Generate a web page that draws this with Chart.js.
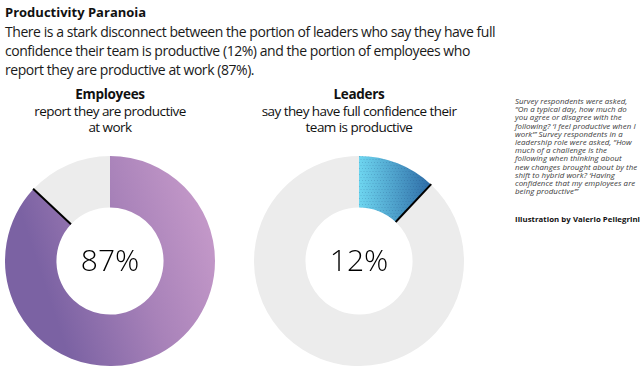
<!DOCTYPE html>
<html><head><meta charset="utf-8">
<script src="https://cdn.jsdelivr.net/npm/chart.js@4/dist/chart.umd.min.js"></script>
<style>
html,body{margin:0;padding:0;background:#fff;width:640px;height:378px;overflow:hidden;}
body{position:relative;font-family:"Open Sans","Noto Sans",sans-serif;color:#111;}
.abs{position:absolute;white-space:nowrap;}
#title{left:5px;top:3px;font-size:13px;font-weight:bold;}
#body{left:5px;top:22px;font-size:14px;line-height:19px;letter-spacing:-0.45px;color:#1a1a1a;}
.head{top:86px;width:240px;text-align:center;font-size:13.5px;line-height:16.5px;letter-spacing:-0.55px;color:#111;}
.head b{font-weight:bold;letter-spacing:-0.3px;}
#note{left:515px;top:97px;font-size:7.9px;line-height:8.2px;font-style:italic;color:#3a3a3a;letter-spacing:0.05px;}
#credit{left:515px;top:214px;font-size:7.8px;font-weight:bold;color:#111;letter-spacing:0.05px;}
canvas{position:absolute;}
</style></head><body>
<div id="title" class="abs">Productivity Paranoia</div>
<div id="body" class="abs">There is a stark disconnect between the portion of leaders who say they have full<br>confidence their team is productive (12%) and the portion of employees who<br>report they are productive at work (87%).</div>
<div class="abs head" style="left:-10px"><b>Employees</b><br>report they are productive<br>at work</div>
<div class="abs head" style="left:239px"><b>Leaders</b><br>say they have full confidence their<br>team is productive</div>
<div id="note" class="abs">Survey respondents were asked,<br>“On a typical day, how much do<br>you agree or disagree with the<br>following? ‘I feel productive when I<br>work’” Survey respondents in a<br>leadership role were asked, “How<br>much of a challenge is the<br>following when thinking about<br>new changes brought about by the<br>shift to hybrid work? ‘Having<br>confidence that my employees are<br>being productive’”</div>
<div id="credit" class="abs">Illustration by Valerio Pellegrini</div>
<canvas id="c1" width="210" height="210" style="left:5px;top:156px;width:210px;height:210px"></canvas>
<canvas id="c2" width="210" height="210" style="left:254px;top:156px;width:210px;height:210px"></canvas>
<script>
const categories = ["Productive", "Other"];
const employeesValues = [87, 13];
const leadersValues = [12, 88];
const employeesLabel = "87%";
const leadersLabel = "12%";

const grey = "#ececec";

function empGradient(){
  const c = document.getElementById('c1').getContext('2d');
  const g = c.createLinearGradient(200, 10, 20, 70);
  g.addColorStop(0, "#c89ccb");
  g.addColorStop(0.5, "#a882b9");
  g.addColorStop(1, "#7b62a3");
  return g;
}
function leadPattern(){
  const pc = document.createElement('canvas');
  pc.width = 210; pc.height = 210;
  const x = pc.getContext('2d');
  const g = x.createLinearGradient(105, 0, 178, 0);
  g.addColorStop(0, "#6ed6f0");
  g.addColorStop(1, "#2d6aa5");
  x.fillStyle = g; x.fillRect(0,0,210,210);
  x.fillStyle = "rgba(20,60,110,0.18)";
  for(let yy=0; yy<210; yy+=3){
    for(let xx=(yy/3)%2?1.5:0; xx<210; xx+=3){
      x.fillRect(xx, yy, 1, 1);
    }
  }
  const c = document.getElementById('c2').getContext('2d');
  return c.createPattern(pc, 'no-repeat');
}

const edgePlugin = {
  id: 'edge',
  afterDatasetsDraw(chart, args, opts){
    const arc = chart.getDatasetMeta(0).data[0];
    const {x, y, startAngle, endAngle, innerRadius, outerRadius} = arc.getProps(['x','y','startAngle','endAngle','innerRadius','outerRadius'], true);
    const ctx = chart.ctx;
    ctx.save();
    ctx.strokeStyle = "#000";
    ctx.lineWidth = 2;
    ctx.beginPath();
    ctx.moveTo(x + Math.cos(endAngle)*innerRadius, y + Math.sin(endAngle)*innerRadius);
    ctx.lineTo(x + Math.cos(endAngle)*(outerRadius+0.5), y + Math.sin(endAngle)*(outerRadius+0.5));
    ctx.stroke();
    ctx.fillStyle = "#000";
    ctx.font = "300 30px 'Open Sans', sans-serif";
    ctx.textAlign = "center";
    ctx.textBaseline = "middle";
    ctx.fillText(opts.text, x, y + 1);
    ctx.restore();
  }
};

function make(id, values, color, text){
  return new Chart(document.getElementById(id), {
    type: 'doughnut',
    data: { labels: categories, datasets: [{ data: values, backgroundColor: [color, grey], borderWidth: 0, hoverOffset: 0 }] },
    options: {
      responsive: false, animation: false, cutout: '51%',
      layout: { padding: 0 },
      events: [],
      plugins: { legend: {display:false}, tooltip: {enabled:false}, edge: { text } }
    },
    plugins: [edgePlugin]
  });
}
make('c1', employeesValues, empGradient(), employeesLabel);
make('c2', leadersValues, leadPattern(), leadersLabel);
</script>
</body></html>
